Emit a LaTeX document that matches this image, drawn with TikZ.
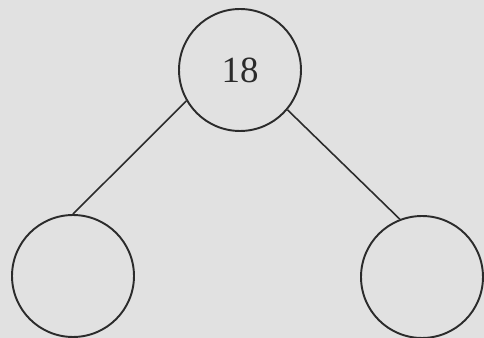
\documentclass[tikz,border=0pt]{standalone}
\usepackage{fontspec}
\setmainfont{Liberation Serif}
\usepackage{tikz}
\usetikzlibrary{positioning}
\usepackage{xcolor}
\definecolor{paper}{HTML}{E1E1E1}
\definecolor{ink}{HTML}{2B2B2B}

\begin{document}
\begin{tikzpicture}[x=0.02cm, y=0.02cm,
  vertex/.style={draw=ink, circle, line width=1.1pt, minimum size=2.44cm, inner sep=0pt, font=\fontsize{21}{24}\selectfont, text=ink},
  edge/.style={draw=ink, line width=0.9pt}
]
  \fill[paper] (0,0) rectangle (484,338);
  \useasboundingbox (0,0) rectangle (484,338);

  \node[vertex] (root) at (240,268) {18};
  \node[vertex] (lchild) at (73,62) {};
  \node[vertex] (rchild) at (422,61) {};

  \draw[edge] (root.210) -- (lchild.90);
  \draw[edge] (root.320) -- (rchild.111);
\end{tikzpicture}
\end{document}
